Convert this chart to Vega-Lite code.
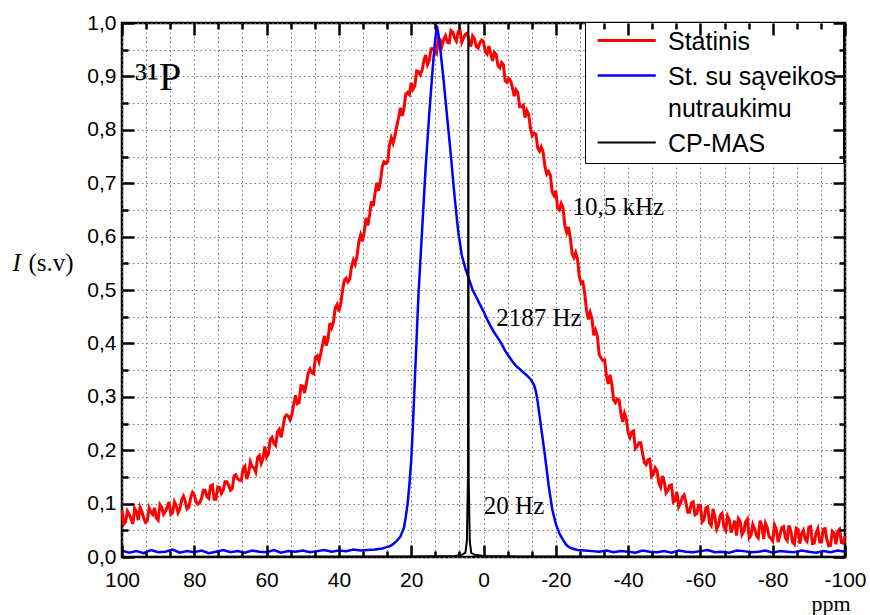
{
  "$schema": "https://vega.github.io/schema/vega-lite/v6.json",
  "width": 723,
  "height": 534,
  "autosize": "none",
  "padding": {"left": 122, "top": 23, "right": 25, "bottom": 58},
  "background": "white",
  "config": {"view": {"stroke": "black", "strokeWidth": 2.5}, "font": "Liberation Sans"},
  "datasets": {
    "lines": [
      {"s":"Statinis","x":100,"y":0.087},{"s":"Statinis","x":99.5,"y":0.062},{"s":"Statinis","x":99,"y":0.066},{"s":"Statinis","x":98.5,"y":0.086},{"s":"Statinis","x":98,"y":0.080},{"s":"Statinis","x":97.5,"y":0.071},{"s":"Statinis","x":97,"y":0.062},{"s":"Statinis","x":96.5,"y":0.091},{"s":"Statinis","x":96,"y":0.085},{"s":"Statinis","x":95.5,"y":0.069},
      {"s":"Statinis","x":95,"y":0.093},{"s":"Statinis","x":94.5,"y":0.085},{"s":"Statinis","x":94,"y":0.073},{"s":"Statinis","x":93.5,"y":0.065},{"s":"Statinis","x":93,"y":0.068},{"s":"Statinis","x":92.5,"y":0.092},{"s":"Statinis","x":92,"y":0.084},{"s":"Statinis","x":91.5,"y":0.080},{"s":"Statinis","x":91,"y":0.092},{"s":"Statinis","x":90.5,"y":0.073},
      {"s":"Statinis","x":90,"y":0.069},{"s":"Statinis","x":89.5,"y":0.098},{"s":"Statinis","x":89,"y":0.093},{"s":"Statinis","x":88.5,"y":0.080},{"s":"Statinis","x":88,"y":0.085},{"s":"Statinis","x":87.5,"y":0.093},{"s":"Statinis","x":87,"y":0.103},{"s":"Statinis","x":86.5,"y":0.080},{"s":"Statinis","x":86,"y":0.083},{"s":"Statinis","x":85.5,"y":0.103},
      {"s":"Statinis","x":85,"y":0.096},{"s":"Statinis","x":84.5,"y":0.083},{"s":"Statinis","x":84,"y":0.090},{"s":"Statinis","x":83.5,"y":0.107},{"s":"Statinis","x":83,"y":0.114},{"s":"Statinis","x":82.5,"y":0.104},{"s":"Statinis","x":82,"y":0.090},{"s":"Statinis","x":81.5,"y":0.093},{"s":"Statinis","x":81,"y":0.111},{"s":"Statinis","x":80.5,"y":0.121},
      {"s":"Statinis","x":80,"y":0.116},{"s":"Statinis","x":79.5,"y":0.103},{"s":"Statinis","x":79,"y":0.099},{"s":"Statinis","x":78.5,"y":0.102},{"s":"Statinis","x":78,"y":0.110},{"s":"Statinis","x":77.5,"y":0.125},{"s":"Statinis","x":77,"y":0.125},{"s":"Statinis","x":76.5,"y":0.113},{"s":"Statinis","x":76,"y":0.110},{"s":"Statinis","x":75.5,"y":0.133},
      {"s":"Statinis","x":75,"y":0.135},{"s":"Statinis","x":74.5,"y":0.108},{"s":"Statinis","x":74,"y":0.108},{"s":"Statinis","x":73.5,"y":0.131},{"s":"Statinis","x":73,"y":0.130},{"s":"Statinis","x":72.5,"y":0.119},{"s":"Statinis","x":72,"y":0.125},{"s":"Statinis","x":71.5,"y":0.141},{"s":"Statinis","x":71,"y":0.141},{"s":"Statinis","x":70.5,"y":0.134},
      {"s":"Statinis","x":70,"y":0.125},{"s":"Statinis","x":69.5,"y":0.128},{"s":"Statinis","x":69,"y":0.152},{"s":"Statinis","x":68.5,"y":0.154},{"s":"Statinis","x":68,"y":0.146},{"s":"Statinis","x":67.5,"y":0.144},{"s":"Statinis","x":67,"y":0.143},{"s":"Statinis","x":66.5,"y":0.166},{"s":"Statinis","x":66,"y":0.170},{"s":"Statinis","x":65.5,"y":0.146},
      {"s":"Statinis","x":65,"y":0.156},{"s":"Statinis","x":64.5,"y":0.178},{"s":"Statinis","x":64,"y":0.169},{"s":"Statinis","x":63.5,"y":0.167},{"s":"Statinis","x":63,"y":0.159},{"s":"Statinis","x":62.5,"y":0.186},{"s":"Statinis","x":62,"y":0.190},{"s":"Statinis","x":61.5,"y":0.175},{"s":"Statinis","x":61,"y":0.184},{"s":"Statinis","x":60.5,"y":0.207},
      {"s":"Statinis","x":60,"y":0.187},{"s":"Statinis","x":59.5,"y":0.193},{"s":"Statinis","x":59,"y":0.220},{"s":"Statinis","x":58.5,"y":0.224},{"s":"Statinis","x":58,"y":0.213},{"s":"Statinis","x":57.5,"y":0.209},{"s":"Statinis","x":57,"y":0.234},{"s":"Statinis","x":56.5,"y":0.239},{"s":"Statinis","x":56,"y":0.224},{"s":"Statinis","x":55.5,"y":0.242},
      {"s":"Statinis","x":55,"y":0.261},{"s":"Statinis","x":54.5,"y":0.266},{"s":"Statinis","x":54,"y":0.264},{"s":"Statinis","x":53.5,"y":0.257},{"s":"Statinis","x":53,"y":0.267},{"s":"Statinis","x":52.5,"y":0.286},{"s":"Statinis","x":52,"y":0.303},{"s":"Statinis","x":51.5,"y":0.287},{"s":"Statinis","x":51,"y":0.289},{"s":"Statinis","x":50.5,"y":0.321},
      {"s":"Statinis","x":50,"y":0.320},{"s":"Statinis","x":49.5,"y":0.307},{"s":"Statinis","x":49,"y":0.325},{"s":"Statinis","x":48.5,"y":0.344},{"s":"Statinis","x":48,"y":0.352},{"s":"Statinis","x":47.5,"y":0.345},{"s":"Statinis","x":47,"y":0.343},{"s":"Statinis","x":46.5,"y":0.374},{"s":"Statinis","x":46,"y":0.377},{"s":"Statinis","x":45.5,"y":0.366},
      {"s":"Statinis","x":45,"y":0.382},{"s":"Statinis","x":44.5,"y":0.398},{"s":"Statinis","x":44,"y":0.414},{"s":"Statinis","x":43.5,"y":0.396},{"s":"Statinis","x":43,"y":0.408},{"s":"Statinis","x":42.5,"y":0.438},{"s":"Statinis","x":42,"y":0.429},{"s":"Statinis","x":41.5,"y":0.440},{"s":"Statinis","x":41,"y":0.467},{"s":"Statinis","x":40.5,"y":0.473},
      {"s":"Statinis","x":40,"y":0.460},{"s":"Statinis","x":39.5,"y":0.474},{"s":"Statinis","x":39,"y":0.499},{"s":"Statinis","x":38.5,"y":0.518},{"s":"Statinis","x":38,"y":0.522},{"s":"Statinis","x":37.5,"y":0.515},{"s":"Statinis","x":37,"y":0.520},{"s":"Statinis","x":36.5,"y":0.544},{"s":"Statinis","x":36,"y":0.556},{"s":"Statinis","x":35.5,"y":0.548},
      {"s":"Statinis","x":35,"y":0.563},{"s":"Statinis","x":34.5,"y":0.590},{"s":"Statinis","x":34,"y":0.603},{"s":"Statinis","x":33.5,"y":0.591},{"s":"Statinis","x":33,"y":0.608},{"s":"Statinis","x":32.5,"y":0.635},{"s":"Statinis","x":32,"y":0.621},{"s":"Statinis","x":31.5,"y":0.641},{"s":"Statinis","x":31,"y":0.666},{"s":"Statinis","x":30.5,"y":0.657},
      {"s":"Statinis","x":30,"y":0.681},{"s":"Statinis","x":29.5,"y":0.701},{"s":"Statinis","x":29,"y":0.686},{"s":"Statinis","x":28.5,"y":0.704},{"s":"Statinis","x":28,"y":0.731},{"s":"Statinis","x":27.5,"y":0.740},{"s":"Statinis","x":27,"y":0.737},{"s":"Statinis","x":26.5,"y":0.740},{"s":"Statinis","x":26,"y":0.771},{"s":"Statinis","x":25.5,"y":0.785},
      {"s":"Statinis","x":25,"y":0.775},{"s":"Statinis","x":24.5,"y":0.788},{"s":"Statinis","x":24,"y":0.807},{"s":"Statinis","x":23.5,"y":0.822},{"s":"Statinis","x":23,"y":0.841},{"s":"Statinis","x":22.5,"y":0.826},{"s":"Statinis","x":22,"y":0.840},{"s":"Statinis","x":21.5,"y":0.867},{"s":"Statinis","x":21,"y":0.870},{"s":"Statinis","x":20.5,"y":0.866},
      {"s":"Statinis","x":20,"y":0.888},{"s":"Statinis","x":19.5,"y":0.876},{"s":"Statinis","x":19,"y":0.882},{"s":"Statinis","x":18.5,"y":0.910},{"s":"Statinis","x":18,"y":0.909},{"s":"Statinis","x":17.5,"y":0.903},{"s":"Statinis","x":17,"y":0.911},{"s":"Statinis","x":16.5,"y":0.929},{"s":"Statinis","x":16,"y":0.940},{"s":"Statinis","x":15.5,"y":0.922},
      {"s":"Statinis","x":15,"y":0.930},{"s":"Statinis","x":14.5,"y":0.952},{"s":"Statinis","x":14,"y":0.952},{"s":"Statinis","x":13.5,"y":0.947},{"s":"Statinis","x":13,"y":0.943},{"s":"Statinis","x":12.5,"y":0.971},{"s":"Statinis","x":12,"y":0.969},{"s":"Statinis","x":11.5,"y":0.957},{"s":"Statinis","x":11,"y":0.969},{"s":"Statinis","x":10.5,"y":0.976},
      {"s":"Statinis","x":10,"y":0.964},{"s":"Statinis","x":9.5,"y":0.963},{"s":"Statinis","x":9,"y":0.986},{"s":"Statinis","x":8.5,"y":0.983},{"s":"Statinis","x":8,"y":0.972},{"s":"Statinis","x":7.5,"y":0.966},{"s":"Statinis","x":7,"y":0.984},{"s":"Statinis","x":6.5,"y":0.987},{"s":"Statinis","x":6,"y":0.964},{"s":"Statinis","x":5.5,"y":0.972},
      {"s":"Statinis","x":5,"y":0.979},{"s":"Statinis","x":4.5,"y":0.981},{"s":"Statinis","x":4,"y":0.968},{"s":"Statinis","x":3.5,"y":0.956},{"s":"Statinis","x":3,"y":0.976},{"s":"Statinis","x":2.5,"y":0.971},{"s":"Statinis","x":2,"y":0.956},{"s":"Statinis","x":1.5,"y":0.953},{"s":"Statinis","x":1,"y":0.963},{"s":"Statinis","x":0.5,"y":0.968},
      {"s":"Statinis","x":0,"y":0.965},{"s":"Statinis","x":-0.5,"y":0.946},{"s":"Statinis","x":-1,"y":0.942},{"s":"Statinis","x":-1.5,"y":0.957},{"s":"Statinis","x":-2,"y":0.942},{"s":"Statinis","x":-2.5,"y":0.929},{"s":"Statinis","x":-3,"y":0.945},{"s":"Statinis","x":-3.5,"y":0.941},{"s":"Statinis","x":-4,"y":0.920},{"s":"Statinis","x":-4.5,"y":0.916},
      {"s":"Statinis","x":-5,"y":0.926},{"s":"Statinis","x":-5.5,"y":0.922},{"s":"Statinis","x":-6,"y":0.892},{"s":"Statinis","x":-6.5,"y":0.889},{"s":"Statinis","x":-7,"y":0.896},{"s":"Statinis","x":-7.5,"y":0.892},{"s":"Statinis","x":-8,"y":0.879},{"s":"Statinis","x":-8.5,"y":0.863},{"s":"Statinis","x":-9,"y":0.875},{"s":"Statinis","x":-9.5,"y":0.870},
      {"s":"Statinis","x":-10,"y":0.843},{"s":"Statinis","x":-10.5,"y":0.843},{"s":"Statinis","x":-11,"y":0.846},{"s":"Statinis","x":-11.5,"y":0.823},{"s":"Statinis","x":-12,"y":0.836},{"s":"Statinis","x":-12.5,"y":0.829},{"s":"Statinis","x":-13,"y":0.802},{"s":"Statinis","x":-13.5,"y":0.789},{"s":"Statinis","x":-14,"y":0.794},{"s":"Statinis","x":-14.5,"y":0.792},
      {"s":"Statinis","x":-15,"y":0.766},{"s":"Statinis","x":-15.5,"y":0.760},{"s":"Statinis","x":-16,"y":0.768},{"s":"Statinis","x":-16.5,"y":0.758},{"s":"Statinis","x":-17,"y":0.731},{"s":"Statinis","x":-17.5,"y":0.717},{"s":"Statinis","x":-18,"y":0.722},{"s":"Statinis","x":-18.5,"y":0.715},{"s":"Statinis","x":-19,"y":0.684},{"s":"Statinis","x":-19.5,"y":0.677},
      {"s":"Statinis","x":-20,"y":0.686},{"s":"Statinis","x":-20.5,"y":0.654},{"s":"Statinis","x":-21,"y":0.650},{"s":"Statinis","x":-21.5,"y":0.662},{"s":"Statinis","x":-22,"y":0.654},{"s":"Statinis","x":-22.5,"y":0.621},{"s":"Statinis","x":-23,"y":0.608},{"s":"Statinis","x":-23.5,"y":0.618},{"s":"Statinis","x":-24,"y":0.598},{"s":"Statinis","x":-24.5,"y":0.569},
      {"s":"Statinis","x":-25,"y":0.561},{"s":"Statinis","x":-25.5,"y":0.570},{"s":"Statinis","x":-26,"y":0.558},{"s":"Statinis","x":-26.5,"y":0.525},{"s":"Statinis","x":-27,"y":0.513},{"s":"Statinis","x":-27.5,"y":0.515},{"s":"Statinis","x":-28,"y":0.493},{"s":"Statinis","x":-28.5,"y":0.463},{"s":"Statinis","x":-29,"y":0.445},{"s":"Statinis","x":-29.5,"y":0.458},
      {"s":"Statinis","x":-30,"y":0.446},{"s":"Statinis","x":-30.5,"y":0.415},{"s":"Statinis","x":-31,"y":0.425},{"s":"Statinis","x":-31.5,"y":0.414},{"s":"Statinis","x":-32,"y":0.379},{"s":"Statinis","x":-32.5,"y":0.373},{"s":"Statinis","x":-33,"y":0.368},{"s":"Statinis","x":-33.5,"y":0.369},{"s":"Statinis","x":-34,"y":0.340},{"s":"Statinis","x":-34.5,"y":0.324},
      {"s":"Statinis","x":-35,"y":0.341},{"s":"Statinis","x":-35.5,"y":0.324},{"s":"Statinis","x":-36,"y":0.294},{"s":"Statinis","x":-36.5,"y":0.289},{"s":"Statinis","x":-37,"y":0.296},{"s":"Statinis","x":-37.5,"y":0.294},{"s":"Statinis","x":-38,"y":0.269},{"s":"Statinis","x":-38.5,"y":0.253},{"s":"Statinis","x":-39,"y":0.269},{"s":"Statinis","x":-39.5,"y":0.259},
      {"s":"Statinis","x":-40,"y":0.233},{"s":"Statinis","x":-40.5,"y":0.224},{"s":"Statinis","x":-41,"y":0.234},{"s":"Statinis","x":-41.5,"y":0.236},{"s":"Statinis","x":-42,"y":0.203},{"s":"Statinis","x":-42.5,"y":0.207},{"s":"Statinis","x":-43,"y":0.214},{"s":"Statinis","x":-43.5,"y":0.214},{"s":"Statinis","x":-44,"y":0.194},{"s":"Statinis","x":-44.5,"y":0.177},
      {"s":"Statinis","x":-45,"y":0.173},{"s":"Statinis","x":-45.5,"y":0.182},{"s":"Statinis","x":-46,"y":0.183},{"s":"Statinis","x":-46.5,"y":0.151},{"s":"Statinis","x":-47,"y":0.155},{"s":"Statinis","x":-47.5,"y":0.167},{"s":"Statinis","x":-48,"y":0.162},{"s":"Statinis","x":-48.5,"y":0.139},{"s":"Statinis","x":-49,"y":0.131},{"s":"Statinis","x":-49.5,"y":0.152},
      {"s":"Statinis","x":-50,"y":0.141},{"s":"Statinis","x":-50.5,"y":0.120},{"s":"Statinis","x":-51,"y":0.125},{"s":"Statinis","x":-51.5,"y":0.134},{"s":"Statinis","x":-52,"y":0.135},{"s":"Statinis","x":-52.5,"y":0.103},{"s":"Statinis","x":-53,"y":0.106},{"s":"Statinis","x":-53.5,"y":0.122},{"s":"Statinis","x":-54,"y":0.094},{"s":"Statinis","x":-54.5,"y":0.101},
      {"s":"Statinis","x":-55,"y":0.112},{"s":"Statinis","x":-55.5,"y":0.116},{"s":"Statinis","x":-56,"y":0.102},{"s":"Statinis","x":-56.5,"y":0.084},{"s":"Statinis","x":-57,"y":0.084},{"s":"Statinis","x":-57.5,"y":0.101},{"s":"Statinis","x":-58,"y":0.103},{"s":"Statinis","x":-58.5,"y":0.079},{"s":"Statinis","x":-59,"y":0.081},{"s":"Statinis","x":-59.5,"y":0.097},
      {"s":"Statinis","x":-60,"y":0.097},{"s":"Statinis","x":-60.5,"y":0.066},{"s":"Statinis","x":-61,"y":0.070},{"s":"Statinis","x":-61.5,"y":0.092},{"s":"Statinis","x":-62,"y":0.094},{"s":"Statinis","x":-62.5,"y":0.064},{"s":"Statinis","x":-63,"y":0.059},{"s":"Statinis","x":-63.5,"y":0.090},{"s":"Statinis","x":-64,"y":0.076},{"s":"Statinis","x":-64.5,"y":0.052},
      {"s":"Statinis","x":-65,"y":0.060},{"s":"Statinis","x":-65.5,"y":0.078},{"s":"Statinis","x":-66,"y":0.082},{"s":"Statinis","x":-66.5,"y":0.056},{"s":"Statinis","x":-67,"y":0.050},{"s":"Statinis","x":-67.5,"y":0.077},{"s":"Statinis","x":-68,"y":0.070},{"s":"Statinis","x":-68.5,"y":0.046},{"s":"Statinis","x":-69,"y":0.056},{"s":"Statinis","x":-69.5,"y":0.068},
      {"s":"Statinis","x":-70,"y":0.040},{"s":"Statinis","x":-70.5,"y":0.072},{"s":"Statinis","x":-71,"y":0.067},{"s":"Statinis","x":-71.5,"y":0.042},{"s":"Statinis","x":-72,"y":0.048},{"s":"Statinis","x":-72.5,"y":0.066},{"s":"Statinis","x":-73,"y":0.071},{"s":"Statinis","x":-73.5,"y":0.036},{"s":"Statinis","x":-74,"y":0.041},{"s":"Statinis","x":-74.5,"y":0.061},
      {"s":"Statinis","x":-75,"y":0.053},{"s":"Statinis","x":-75.5,"y":0.040},{"s":"Statinis","x":-76,"y":0.036},{"s":"Statinis","x":-76.5,"y":0.068},{"s":"Statinis","x":-77,"y":0.059},{"s":"Statinis","x":-77.5,"y":0.034},{"s":"Statinis","x":-78,"y":0.063},{"s":"Statinis","x":-78.5,"y":0.055},{"s":"Statinis","x":-79,"y":0.038},{"s":"Statinis","x":-79.5,"y":0.035},
      {"s":"Statinis","x":-80,"y":0.030},{"s":"Statinis","x":-80.5,"y":0.060},{"s":"Statinis","x":-81,"y":0.052},{"s":"Statinis","x":-81.5,"y":0.028},{"s":"Statinis","x":-82,"y":0.041},{"s":"Statinis","x":-82.5,"y":0.055},{"s":"Statinis","x":-83,"y":0.057},{"s":"Statinis","x":-83.5,"y":0.036},{"s":"Statinis","x":-84,"y":0.031},{"s":"Statinis","x":-84.5,"y":0.059},
      {"s":"Statinis","x":-85,"y":0.050},{"s":"Statinis","x":-85.5,"y":0.028},{"s":"Statinis","x":-86,"y":0.024},{"s":"Statinis","x":-86.5,"y":0.054},{"s":"Statinis","x":-87,"y":0.052},{"s":"Statinis","x":-87.5,"y":0.025},{"s":"Statinis","x":-88,"y":0.044},{"s":"Statinis","x":-88.5,"y":0.050},{"s":"Statinis","x":-89,"y":0.033},{"s":"Statinis","x":-89.5,"y":0.029},
      {"s":"Statinis","x":-90,"y":0.056},{"s":"Statinis","x":-90.5,"y":0.057},{"s":"Statinis","x":-91,"y":0.025},{"s":"Statinis","x":-91.5,"y":0.026},{"s":"Statinis","x":-92,"y":0.045},{"s":"Statinis","x":-92.5,"y":0.053},{"s":"Statinis","x":-93,"y":0.028},{"s":"Statinis","x":-93.5,"y":0.028},{"s":"Statinis","x":-94,"y":0.052},{"s":"Statinis","x":-94.5,"y":0.053},
      {"s":"Statinis","x":-95,"y":0.032},{"s":"Statinis","x":-95.5,"y":0.021},{"s":"Statinis","x":-96,"y":0.022},{"s":"Statinis","x":-96.5,"y":0.048},{"s":"Statinis","x":-97,"y":0.045},{"s":"Statinis","x":-97.5,"y":0.024},{"s":"Statinis","x":-98,"y":0.048},{"s":"Statinis","x":-98.5,"y":0.052},{"s":"Statinis","x":-99,"y":0.027},{"s":"Statinis","x":-99.5,"y":0.026},
      {"s":"Statinis","x":-100,"y":0.039},

      {"s":"St. su sąveikos nutraukimu","x":100,"y":0.012},{"s":"St. su sąveikos nutraukimu","x":98,"y":0.008},{"s":"St. su sąveikos nutraukimu","x":96,"y":0.011},{"s":"St. su sąveikos nutraukimu","x":94,"y":0.007},{"s":"St. su sąveikos nutraukimu","x":92,"y":0.013},{"s":"St. su sąveikos nutraukimu","x":90,"y":0.009},{"s":"St. su sąveikos nutraukimu","x":88,"y":0.010},{"s":"St. su sąveikos nutraukimu","x":86,"y":0.014},{"s":"St. su sąveikos nutraukimu","x":84,"y":0.008},{"s":"St. su sąveikos nutraukimu","x":82,"y":0.011},
      {"s":"St. su sąveikos nutraukimu","x":80,"y":0.009},{"s":"St. su sąveikos nutraukimu","x":78,"y":0.012},{"s":"St. su sąveikos nutraukimu","x":76,"y":0.007},{"s":"St. su sąveikos nutraukimu","x":74,"y":0.010},{"s":"St. su sąveikos nutraukimu","x":72,"y":0.013},{"s":"St. su sąveikos nutraukimu","x":70,"y":0.009},{"s":"St. su sąveikos nutraukimu","x":68,"y":0.011},{"s":"St. su sąveikos nutraukimu","x":66,"y":0.008},{"s":"St. su sąveikos nutraukimu","x":64,"y":0.012},{"s":"St. su sąveikos nutraukimu","x":62,"y":0.010},
      {"s":"St. su sąveikos nutraukimu","x":60,"y":0.009},{"s":"St. su sąveikos nutraukimu","x":58,"y":0.013},{"s":"St. su sąveikos nutraukimu","x":56,"y":0.008},{"s":"St. su sąveikos nutraukimu","x":54,"y":0.011},{"s":"St. su sąveikos nutraukimu","x":52,"y":0.010},{"s":"St. su sąveikos nutraukimu","x":50,"y":0.012},{"s":"St. su sąveikos nutraukimu","x":48,"y":0.009},{"s":"St. su sąveikos nutraukimu","x":46,"y":0.011},{"s":"St. su sąveikos nutraukimu","x":44,"y":0.013},{"s":"St. su sąveikos nutraukimu","x":42,"y":0.010},
      {"s":"St. su sąveikos nutraukimu","x":40,"y":0.012},{"s":"St. su sąveikos nutraukimu","x":38,"y":0.011},{"s":"St. su sąveikos nutraukimu","x":36,"y":0.014},{"s":"St. su sąveikos nutraukimu","x":34,"y":0.012},{"s":"St. su sąveikos nutraukimu","x":32,"y":0.013},{"s":"St. su sąveikos nutraukimu","x":30,"y":0.014},
      {"s":"St. su sąveikos nutraukimu","x":29,"y":0.015},{"s":"St. su sąveikos nutraukimu","x":28,"y":0.016},{"s":"St. su sąveikos nutraukimu","x":27,"y":0.018},{"s":"St. su sąveikos nutraukimu","x":26,"y":0.020},{"s":"St. su sąveikos nutraukimu","x":25,"y":0.024},{"s":"St. su sąveikos nutraukimu","x":24,"y":0.030},{"s":"St. su sąveikos nutraukimu","x":23,"y":0.038},{"s":"St. su sąveikos nutraukimu","x":22,"y":0.055},{"s":"St. su sąveikos nutraukimu","x":21.5,"y":0.075},{"s":"St. su sąveikos nutraukimu","x":21,"y":0.100},
      {"s":"St. su sąveikos nutraukimu","x":20.5,"y":0.135},{"s":"St. su sąveikos nutraukimu","x":20,"y":0.180},{"s":"St. su sąveikos nutraukimu","x":19.5,"y":0.250},{"s":"St. su sąveikos nutraukimu","x":19,"y":0.330},{"s":"St. su sąveikos nutraukimu","x":18.5,"y":0.410},{"s":"St. su sąveikos nutraukimu","x":18,"y":0.490},{"s":"St. su sąveikos nutraukimu","x":17,"y":0.610},{"s":"St. su sąveikos nutraukimu","x":16,"y":0.730},{"s":"St. su sąveikos nutraukimu","x":15,"y":0.830},{"s":"St. su sąveikos nutraukimu","x":14,"y":0.920},
      {"s":"St. su sąveikos nutraukimu","x":13.5,"y":0.960},{"s":"St. su sąveikos nutraukimu","x":12.9,"y":0.995},{"s":"St. su sąveikos nutraukimu","x":12.5,"y":0.980},{"s":"St. su sąveikos nutraukimu","x":12,"y":0.955},{"s":"St. su sąveikos nutraukimu","x":11,"y":0.890},{"s":"St. su sąveikos nutraukimu","x":10,"y":0.820},{"s":"St. su sąveikos nutraukimu","x":9,"y":0.750},{"s":"St. su sąveikos nutraukimu","x":8,"y":0.675},{"s":"St. su sąveikos nutraukimu","x":7,"y":0.610},{"s":"St. su sąveikos nutraukimu","x":6,"y":0.565},
      {"s":"St. su sąveikos nutraukimu","x":5,"y":0.540},{"s":"St. su sąveikos nutraukimu","x":4,"y":0.520},{"s":"St. su sąveikos nutraukimu","x":3,"y":0.500},{"s":"St. su sąveikos nutraukimu","x":2,"y":0.487},{"s":"St. su sąveikos nutraukimu","x":1,"y":0.473},{"s":"St. su sąveikos nutraukimu","x":0,"y":0.460},{"s":"St. su sąveikos nutraukimu","x":-1,"y":0.445},{"s":"St. su sąveikos nutraukimu","x":-2,"y":0.432},{"s":"St. su sąveikos nutraukimu","x":-3,"y":0.420},{"s":"St. su sąveikos nutraukimu","x":-4,"y":0.410},
      {"s":"St. su sąveikos nutraukimu","x":-5,"y":0.399},{"s":"St. su sąveikos nutraukimu","x":-6,"y":0.386},{"s":"St. su sąveikos nutraukimu","x":-7,"y":0.376},{"s":"St. su sąveikos nutraukimu","x":-8,"y":0.366},{"s":"St. su sąveikos nutraukimu","x":-9,"y":0.358},{"s":"St. su sąveikos nutraukimu","x":-10,"y":0.352},{"s":"St. su sąveikos nutraukimu","x":-11,"y":0.346},{"s":"St. su sąveikos nutraukimu","x":-12,"y":0.340},{"s":"St. su sąveikos nutraukimu","x":-13,"y":0.333},{"s":"St. su sąveikos nutraukimu","x":-14,"y":0.322},
      {"s":"St. su sąveikos nutraukimu","x":-14.5,"y":0.310},{"s":"St. su sąveikos nutraukimu","x":-15,"y":0.290},{"s":"St. su sąveikos nutraukimu","x":-16,"y":0.240},{"s":"St. su sąveikos nutraukimu","x":-17,"y":0.190},{"s":"St. su sąveikos nutraukimu","x":-18,"y":0.135},{"s":"St. su sąveikos nutraukimu","x":-19,"y":0.090},{"s":"St. su sąveikos nutraukimu","x":-20,"y":0.062},{"s":"St. su sąveikos nutraukimu","x":-21,"y":0.044},{"s":"St. su sąveikos nutraukimu","x":-22,"y":0.032},{"s":"St. su sąveikos nutraukimu","x":-23,"y":0.022},
      {"s":"St. su sąveikos nutraukimu","x":-24,"y":0.017},{"s":"St. su sąveikos nutraukimu","x":-25,"y":0.015},{"s":"St. su sąveikos nutraukimu","x":-26,"y":0.013},{"s":"St. su sąveikos nutraukimu","x":-28,"y":0.012},
      {"s":"St. su sąveikos nutraukimu","x":-30,"y":0.011},{"s":"St. su sąveikos nutraukimu","x":-32,"y":0.010},{"s":"St. su sąveikos nutraukimu","x":-34,"y":0.012},{"s":"St. su sąveikos nutraukimu","x":-36,"y":0.009},{"s":"St. su sąveikos nutraukimu","x":-38,"y":0.011},{"s":"St. su sąveikos nutraukimu","x":-40,"y":0.010},{"s":"St. su sąveikos nutraukimu","x":-42,"y":0.008},{"s":"St. su sąveikos nutraukimu","x":-44,"y":0.012},{"s":"St. su sąveikos nutraukimu","x":-46,"y":0.010},{"s":"St. su sąveikos nutraukimu","x":-48,"y":0.009},
      {"s":"St. su sąveikos nutraukimu","x":-50,"y":0.011},{"s":"St. su sąveikos nutraukimu","x":-52,"y":0.008},{"s":"St. su sąveikos nutraukimu","x":-54,"y":0.012},{"s":"St. su sąveikos nutraukimu","x":-56,"y":0.010},{"s":"St. su sąveikos nutraukimu","x":-58,"y":0.009},{"s":"St. su sąveikos nutraukimu","x":-60,"y":0.011},{"s":"St. su sąveikos nutraukimu","x":-62,"y":0.013},{"s":"St. su sąveikos nutraukimu","x":-64,"y":0.009},{"s":"St. su sąveikos nutraukimu","x":-66,"y":0.010},{"s":"St. su sąveikos nutraukimu","x":-68,"y":0.008},
      {"s":"St. su sąveikos nutraukimu","x":-70,"y":0.012},{"s":"St. su sąveikos nutraukimu","x":-72,"y":0.011},{"s":"St. su sąveikos nutraukimu","x":-74,"y":0.009},{"s":"St. su sąveikos nutraukimu","x":-76,"y":0.010},{"s":"St. su sąveikos nutraukimu","x":-78,"y":0.012},{"s":"St. su sąveikos nutraukimu","x":-80,"y":0.008},{"s":"St. su sąveikos nutraukimu","x":-82,"y":0.011},{"s":"St. su sąveikos nutraukimu","x":-84,"y":0.010},{"s":"St. su sąveikos nutraukimu","x":-86,"y":0.009},{"s":"St. su sąveikos nutraukimu","x":-88,"y":0.012},
      {"s":"St. su sąveikos nutraukimu","x":-90,"y":0.010},{"s":"St. su sąveikos nutraukimu","x":-92,"y":0.008},{"s":"St. su sąveikos nutraukimu","x":-94,"y":0.011},{"s":"St. su sąveikos nutraukimu","x":-96,"y":0.009},{"s":"St. su sąveikos nutraukimu","x":-98,"y":0.012},{"s":"St. su sąveikos nutraukimu","x":-100,"y":0.010},

      {"s":"CP-MAS","x":100,"y":0},{"s":"CP-MAS","x":20,"y":0.001},{"s":"CP-MAS","x":8,"y":0.002},{"s":"CP-MAS","x":6,"y":0.004},{"s":"CP-MAS","x":5,"y":0.008},{"s":"CP-MAS","x":4.6,"y":0.03},{"s":"CP-MAS","x":4.3,"y":0.15},{"s":"CP-MAS","x":4.2,"y":1.0},{"s":"CP-MAS","x":4.1,"y":0.15},{"s":"CP-MAS","x":3.8,"y":0.03},{"s":"CP-MAS","x":3.4,"y":0.008},{"s":"CP-MAS","x":2.5,"y":0.004},{"s":"CP-MAS","x":0,"y":0.002},{"s":"CP-MAS","x":-10,"y":0.001},{"s":"CP-MAS","x":-100,"y":0}
    ],
    "notes": [
      {"x":-24.6,"y":0.656,"t":"10,5 kHz"},
      {"x":-3.5,"y":0.447,"t":"2187 Hz"},
      {"x":-0.1,"y":0.0955,"t":"20 Hz"}
    ],
    "nucleus": [
      {"x":96.4,"y":0.875,"t":"³¹P"}
    ]
  },
  "layer": [
    {
      "data": {"name": "notes"},
      "transform": [{"filter": "datum.t == '10,5 kHz'"}],
      "mark": {"type": "text", "font": "Liberation Serif", "fontSize": 25, "align": "left", "baseline": "middle", "color": "black"},
      "encoding": {
        "x": {
          "field": "x", "type": "quantitative",
          "scale": {"domain": [-100, 100], "reverse": true, "nice": false, "zero": false},
          "axis": {
            "orient": "bottom", "offset": -12, "zindex": 2,
            "values": [100, 80, 60, 40, 20, 0, -20, -40, -60, -80, -100],
            "labelExpr": "'' + round(datum.value)",
            "labelFont": "Liberation Sans", "labelFontSize": 21, "labelColor": "black",
            "labelPadding": 12, "labelFlush": false,
            "ticks": true, "tickSize": 12, "tickWidth": 2.5, "tickColor": "black",
            "domain": false, "grid": false,
            "title": "ppm", "titleFont": "Liberation Serif", "titleFontSize": 22, "titleFontWeight": "normal", "titleColor": "black",
            "titleX": 728, "titleY": 58, "titleAlign": "right", "titleBaseline": "middle", "titleAnchor": null
          }
        },
        "y": {
          "field": "y", "type": "quantitative",
          "scale": {"domain": [0, 1], "nice": false},
          "axis": {
            "orient": "left", "offset": -12, "zindex": 2,
            "values": [0, 0.1, 0.2, 0.3, 0.4, 0.5, 0.6, 0.7, 0.8, 0.9, 1.0],
            "labelExpr": "replace(format(datum.value, '.1f'), '.', ',')",
            "labelFont": "Liberation Sans", "labelFontSize": 21, "labelColor": "black",
            "labelPadding": 6, "labelFlush": false,
            "ticks": true, "tickSize": 12, "tickWidth": 2.5, "tickColor": "black",
            "domain": false, "grid": false,
            "title": "I", "titleFont": "Liberation Serif", "titleFontStyle": "italic", "titleFontSize": 25, "titleFontWeight": "normal", "titleColor": "black",
            "titleAngle": 0, "titleX": -122, "titleY": 239, "titleAlign": "left", "titleBaseline": "middle", "titleAnchor": null
          }
        },
        "text": {"field": "t"}
      }
    },
    {
      "data": {"name": "notes"},
      "transform": [{"filter": "datum.t == '2187 Hz'"}],
      "mark": {"type": "text", "font": "Liberation Serif", "fontSize": 25, "align": "left", "baseline": "middle", "color": "black"},
      "encoding": {
        "x": {
          "field": "x", "type": "quantitative",
          "axis": {
            "orient": "bottom", "offset": -6, "zindex": 2,
            "values": [93.333, 86.667, 73.333, 66.667, 53.333, 46.667, 33.333, 26.667, 13.333, 6.667, -6.667, -13.333, -26.667, -33.333, -46.667, -53.333, -66.667, -73.333, -86.667, -93.333],
            "labels": false, "domain": false, "title": null, "grid": false,
            "ticks": true, "tickSize": 6, "tickWidth": 2.5, "tickColor": "black"
          }
        },
        "y": {
          "field": "y", "type": "quantitative",
          "axis": {
            "orient": "left", "offset": -6, "zindex": 2,
            "values": [0.05, 0.15, 0.25, 0.35, 0.45, 0.55, 0.65, 0.75, 0.85, 0.95],
            "labels": false, "domain": false, "title": null, "grid": false,
            "ticks": true, "tickSize": 6, "tickWidth": 2.5, "tickColor": "black"
          }
        },
        "text": {"field": "t"}
      }
    },
    {
      "data": {"name": "notes"},
      "transform": [{"filter": "datum.t == '20 Hz'"}],
      "mark": {"type": "text", "font": "Liberation Serif", "fontSize": 25, "align": "left", "baseline": "middle", "color": "black"},
      "encoding": {
        "x": {
          "field": "x", "type": "quantitative",
          "axis": {
            "orient": "top", "zindex": 2,
            "values": [100, 80, 60, 40, 20, 0, -20, -40, -60, -80, -100],
            "labels": false, "domain": false, "grid": false, "title": null,
            "ticks": true, "tickSize": -12, "tickWidth": 2.5, "tickColor": "black"
          }
        },
        "y": {
          "field": "y", "type": "quantitative",
          "axis": {
            "orient": "right", "zindex": 2,
            "values": [0, 0.1, 0.2, 0.3, 0.4, 0.5, 0.6, 0.7, 0.8, 0.9, 1.0],
            "labels": false, "domain": false, "grid": false,
            "ticks": true, "tickSize": -12, "tickWidth": 2.5, "tickColor": "black",
            "title": "(s.v)", "titleFont": "Liberation Serif", "titleFontSize": 25, "titleFontWeight": "normal", "titleColor": "black",
            "titleAngle": 0, "titleX": -817, "titleY": 239, "titleAlign": "left", "titleBaseline": "middle", "titleAnchor": null
          }
        },
        "text": {"field": "t"}
      }
    },
    {
      "data": {"name": "nucleus"},
      "mark": {"type": "text", "font": "Liberation Serif", "fontSize": 40, "align": "left", "baseline": "alphabetic", "color": "black"},
      "encoding": {
        "x": {
          "field": "x", "type": "quantitative",
          "axis": {
            "orient": "top", "zindex": 2,
            "values": [93.333, 86.667, 73.333, 66.667, 53.333, 46.667, 33.333, 26.667, 13.333, 6.667, -6.667, -13.333, -26.667, -33.333, -46.667, -53.333, -66.667, -73.333, -86.667, -93.333],
            "labels": false, "domain": false, "grid": false, "title": null,
            "ticks": true, "tickSize": -6, "tickWidth": 2.5, "tickColor": "black"
          }
        },
        "y": {
          "field": "y", "type": "quantitative",
          "axis": {
            "orient": "right", "zindex": 2,
            "values": [0.05, 0.15, 0.25, 0.35, 0.45, 0.55, 0.65, 0.75, 0.85, 0.95],
            "labels": false, "domain": false, "grid": false, "title": null,
            "ticks": true, "tickSize": -6, "tickWidth": 2.5, "tickColor": "black"
          }
        },
        "text": {"field": "t"}
      }
    },
    {
      "data": {"name": "lines"},
      "mark": {"type": "line", "clip": false},
      "encoding": {
        "x": {
          "field": "x", "type": "quantitative",
          "axis": {
            "orient": "bottom", "zindex": 0,
            "values": [100, 93.333, 86.667, 80, 73.333, 66.667, 60, 53.333, 46.667, 40, 33.333, 26.667, 20, 13.333, 6.667, 0, -6.667, -13.333, -20, -26.667, -33.333, -40, -46.667, -53.333, -60, -66.667, -73.333, -80, -86.667, -93.333, -100],
            "labels": false, "domain": false, "title": null, "ticks": false,
            "grid": true, "gridColor": "#777777", "gridDash": [1.5, 3], "gridWidth": 1
          }
        },
        "y": {
          "field": "y", "type": "quantitative",
          "axis": {
            "orient": "left", "zindex": 0,
            "values": [0, 0.05, 0.1, 0.15, 0.2, 0.25, 0.3, 0.35, 0.4, 0.45, 0.5, 0.55, 0.6, 0.65, 0.7, 0.75, 0.8, 0.85, 0.9, 0.95, 1.0],
            "labels": false, "domain": false, "title": null, "ticks": false,
            "grid": true, "gridColor": "#777777", "gridDash": [1.5, 3], "gridWidth": 1
          }
        },
        "color": {
          "field": "s", "type": "nominal",
          "scale": {"domain": ["Statinis", "St. su sąveikos nutraukimu", "CP-MAS"], "range": ["#ff0000", "#0000ff", "#000000"]},
          "legend": {
            "orient": "none", "legendX": 463, "legendY": -1,
            "title": null,
            "symbolType": "M-1,0H9", "symbolSize": 135, "symbolStrokeWidth": 4, "symbolFillColor": "transparent",
            "labelFont": "Liberation Sans", "labelFontSize": 25, "labelColor": "black",
            "labelOffset": 52, "labelLimit": 400,
            "labelExpr": "datum.label == 'St. su sąveikos nutraukimu' ? ['St. su sąveikos', 'nutraukimu'] : datum.label",
            "labelBaseline": "alphabetic",
            "padding": 6, "rowPadding": 8,
            "strokeColor": "black", "fillColor": "white",
            "encode": {
              "symbols": {"update": {"strokeWidth": {"value": 4}}},
              "labels": {"update": {"dy": {"value": 9}, "lineHeight": {"value": 32}}}
            }
          }
        },
        "strokeWidth": {
          "field": "s", "type": "nominal",
          "scale": {"domain": ["Statinis", "St. su sąveikos nutraukimu", "CP-MAS"], "range": [3, 2, 2]},
          "legend": null
        }
      }
    }
  ],
  "resolve": {"axis": {"x": "independent", "y": "independent"}}
}
